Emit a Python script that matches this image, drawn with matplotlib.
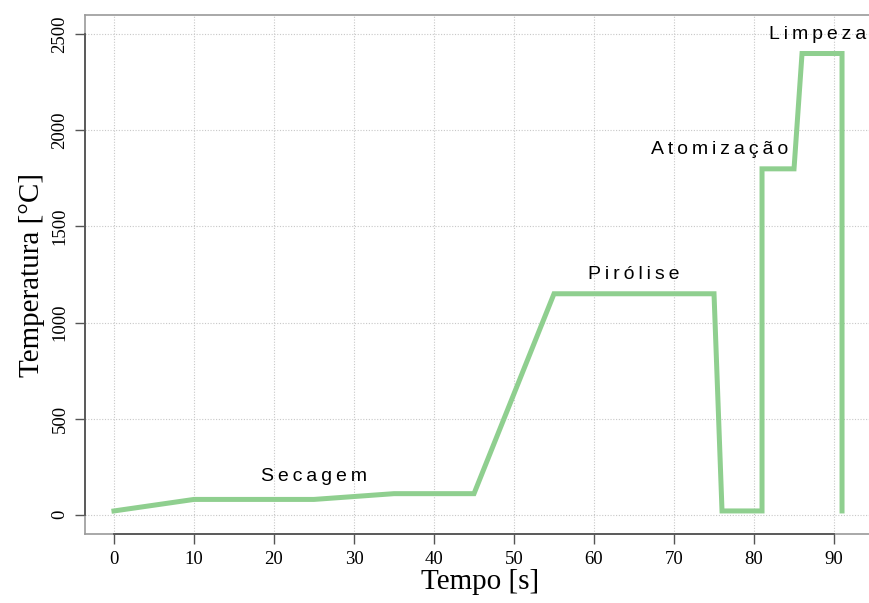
import numpy as np
import matplotlib
matplotlib.use("Agg")
import matplotlib.pyplot as plt

# temperature program of the furnace
tempo = [0, 10, 25, 35, 45, 55, 75, 76, 81, 81, 85, 86, 91, 91]
temperatura = [20, 80, 80, 110, 110, 1150, 1150, 20, 20, 1800, 1800, 2400, 2400, 20]

etapas = ["Secagem", "Pirólise", "Atomização", "Limpeza"]
etapa_x = [25, 65, 75.7, 88]
etapa_y = [200, 1250, 1900, 2500]

xticks = [0, 10, 20, 30, 40, 50, 60, 70, 80, 90]
yticks = [0, 500, 1000, 1500, 2000, 2500]


def espacado(s):
    return "\u2009".join(s)


fig = plt.figure(figsize=(8.69, 6.03), dpi=100)
ax = fig.add_axes([0.098, 0.1144, 0.91, 0.8606])

ax.plot(tempo, temperatura, color="#8fcf8f", lw=3.6, solid_joinstyle="miter", zorder=3)

for nome, x, y in zip(etapas, etapa_x, etapa_y):
    ax.text(x, y, espacado(nome), ha="center", va="center", fontsize=14,
            family="Liberation Sans", color="#000000", zorder=4)

x0, x1 = -3.6, 95.24
y0, y1 = -100, 2600
ax.set_xlim(x0, x1)
ax.set_ylim(y0, y1)
ax.set_xticks(xticks)
ax.set_yticks(yticks)
ax.grid(True, color="#c8c8c8", linestyle=(0, (1, 1.5)), linewidth=0.8)

serif = "Liberation Serif"
for lab in ax.get_xticklabels():
    lab.set_family(serif)
    lab.set_fontsize(13.5)
for lab in ax.get_yticklabels():
    lab.set_family(serif)
    lab.set_fontsize(13.5)
    lab.set_rotation(90)
    lab.set_va("center")

ax.tick_params(direction="out", length=7, width=1, color="#555555", pad=5)
for s in ax.spines.values():
    s.set_color("#9a9a9a")
    s.set_linewidth(1.2)

# axis lines over the tick range, darker than the box
ax.plot([xticks[0], xticks[-1]], [y0, y0], color="#555555", lw=1.3, clip_on=False, zorder=5)
ax.plot([x0, x0], [yticks[0], yticks[-1]], color="#555555", lw=1.3, clip_on=False, zorder=5)

ax.set_xlabel("Tempo [s]", family=serif, fontsize=21, labelpad=1)
ax.set_ylabel("Temperatura [°C]", family=serif, fontsize=21, labelpad=5)

fig.savefig("out.png", dpi=100, facecolor="white")
